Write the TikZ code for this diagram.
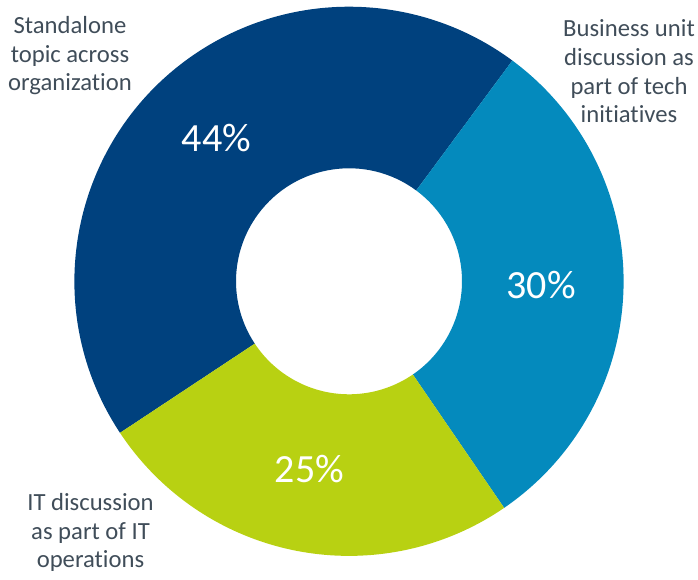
\documentclass[tikz,border=0pt]{standalone}
\usepackage{fontspec}
\setmainfont{Carlito}[Ligatures=NoCommon]
\definecolor{darkblue}{RGB}{0,65,126}
\definecolor{lightblue}{RGB}{4,138,189}
\definecolor{limegreen}{RGB}{184,209,18}
\definecolor{labelgray}{RGB}{64,77,89}
\tikzset{
	label/.style={align=center, inner sep=0pt, anchor=base, text=labelgray,
		font=\fontsize{18.5}{21.6}\selectfont},
	percent/.style={inner sep=0pt, anchor=base, text=white,
		font=\fontsize{30}{36}\selectfont}
}

\begin{document}
\begin{tikzpicture}[x=0.75pt, y=0.75pt]
	\useasboundingbox (0,0) rectangle (698,580);

	\begin{scope}[shift={(349,298.7)}]
		\fill[darkblue] (213.5:274.6) arc[start angle=213.5, end angle=53.5, radius=274.6] -- (53.5:113) arc[start angle=53.5, end angle=213.5, radius=113] -- cycle;
		\fill[lightblue] (53.5:274.6) arc[start angle=53.5, end angle=-55.6, radius=274.6] -- (-55.6:113) arc[start angle=-55.6, end angle=53.5, radius=113] -- cycle;
		\fill[limegreen] (-55.6:274.6) arc[start angle=-55.6, end angle=-146.5, radius=274.6] -- (-146.5:113) arc[start angle=-146.5, end angle=-55.6, radius=113] -- cycle;
	\end{scope}

	\node[percent] (p44) at (216.5,428) {44\%};
	\node[percent] (p30) at (541,281) {30\%};
	\node[percent] (p25) at (309.5,97) {25\%};

	\node[label] (standalone) at (70,489) {Standalone\\topic across\\organization};
	\node[label] (business) at (629,457) {Business unit\\discussion as\\part of tech\\initiatives};
	\node[label] (itops) at (90.5,12) {IT discussion\\as part of IT\\operations};
\end{tikzpicture}
\end{document}
